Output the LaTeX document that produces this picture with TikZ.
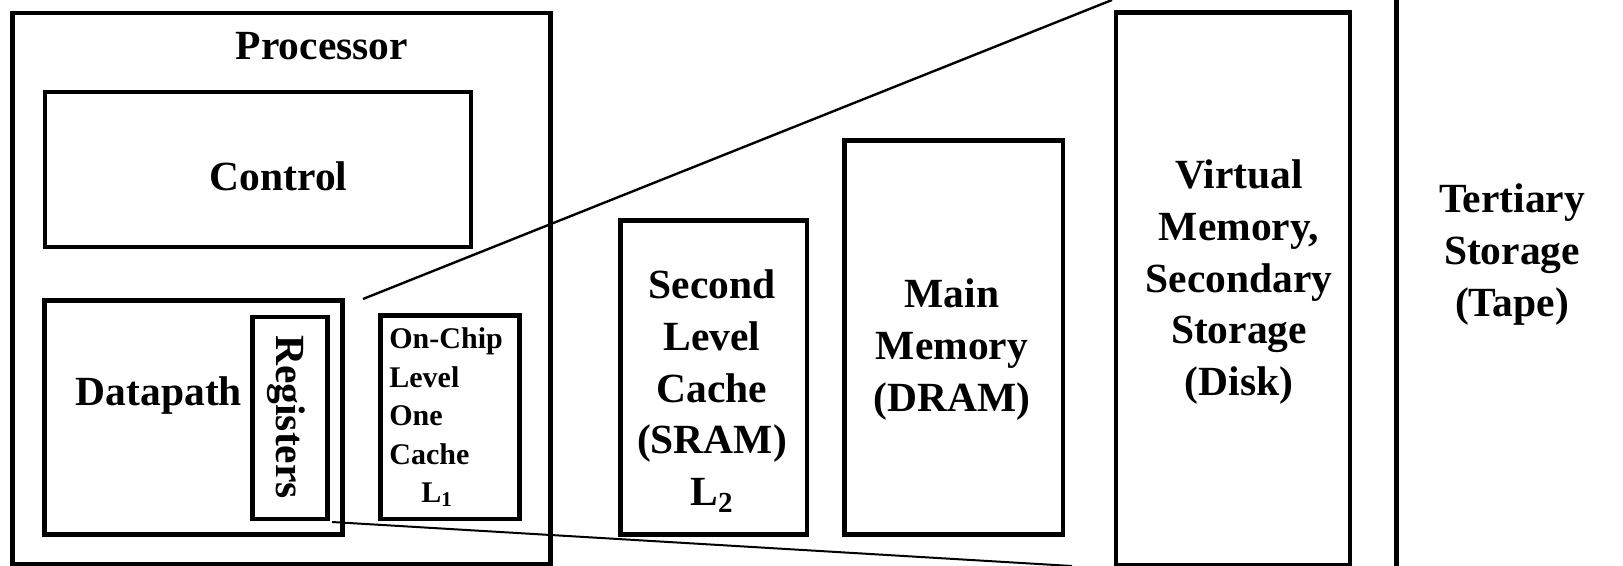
\documentclass[tikz,border=0pt]{standalone}
\usepackage{fontspec}
\setmainfont{Liberation Serif}
\usepackage{tikz}
\usetikzlibrary{positioning}
\tikzset{
box/.style={draw, line width=2.4pt, inner sep=0pt}, % the thick frames
lbl/.style={font=\fontsize{20.75pt}{25.9pt}\selectfont\bfseries, inner sep=0pt, align=center}, % big labels
small/.style={font=\fontsize{15pt}{19.25pt}\selectfont\bfseries, inner sep=0pt, align=left}, % text of the L1 box
zoomline/.style={line width=1.2pt}, % the two lines that open the picture up
}

\begin{document}
\begin{tikzpicture}[x=0.5pt, y=-0.5pt]
    \useasboundingbox (0,0) rectangle (1623,566);
    \clip (0,0) rectangle (1623,566);

    % processor and what sits in it
    \node [box, minimum width=269pt, minimum height=275.75pt] (proc) at (281.5,288.75) {};
    \node [box, minimum width=213pt, minimum height=77.5pt] (ctrl) at (258,169.5) {};
    \node [box, minimum width=149pt, minimum height=117pt] (dpath) at (193.5,417.5) {};
    \node [box, minimum width=37.5pt, minimum height=101pt] (regs) at (290,418) {};
    \node [box, minimum width=69.5pt, minimum height=101.75pt] (lone) at (450,417.25) {};

    \node [lbl, anchor=base] (procT) at (322,59.6) {Processor};
    \node [lbl, anchor=base] (ctrlT) at (278.6,191) {Control};
    \node [lbl, anchor=base] (dpathT) at (159,406) {Datapath};
    \node [lbl, rotate=-90] (regsT) at (286.5,417) {Registers};
    \node [small, anchor=north west] (loneT) at (389,327.3)
      {On-Chip\\Level\\One\\Cache\\\hspace*{16pt}L\textsubscript{1}};

    % the levels further out
    \node [box, minimum width=93.25pt, minimum height=157pt] (ltwo) at (713.75,377.5) {};
    \node [box, minimum width=109.25pt, minimum height=197pt] (mainmem) at (953.75,337.5) {};
    \node [box, minimum width=117pt, minimum height=276.25pt] (virt) at (1233,288.75) {};
    \node [box, minimum width=151.75pt, minimum height=315pt] (tert) at (1548.25,285) {};

    \node [lbl, anchor=north] (ltwoT) at (712,269.4) {Second\\Level\\Cache\\(SRAM)\\L\textsubscript{2}};
    \node [lbl, anchor=north] (mainmemT) at (952,278.4) {Main\\Memory\\(DRAM)};
    \node [lbl, anchor=north] (virtT) at (1239,159.4) {Virtual\\Memory,\\Secondary\\Storage\\(Disk)};
    \node [lbl, anchor=north] (tertT) at (1512,183.4) {Tertiary\\Storage\\(Tape)};

    % zoom lines
    \coordinate (zoomA) at (363,299);
    \coordinate (zoomB) at (1112,0);
    \coordinate (zoomC) at (332,522);
    \coordinate (zoomD) at (1072,566);
    \draw [zoomline] (zoomA) -- (zoomB);
    \draw [zoomline, line width=1pt] (zoomC) -- (zoomD);
\end{tikzpicture}
\end{document}
